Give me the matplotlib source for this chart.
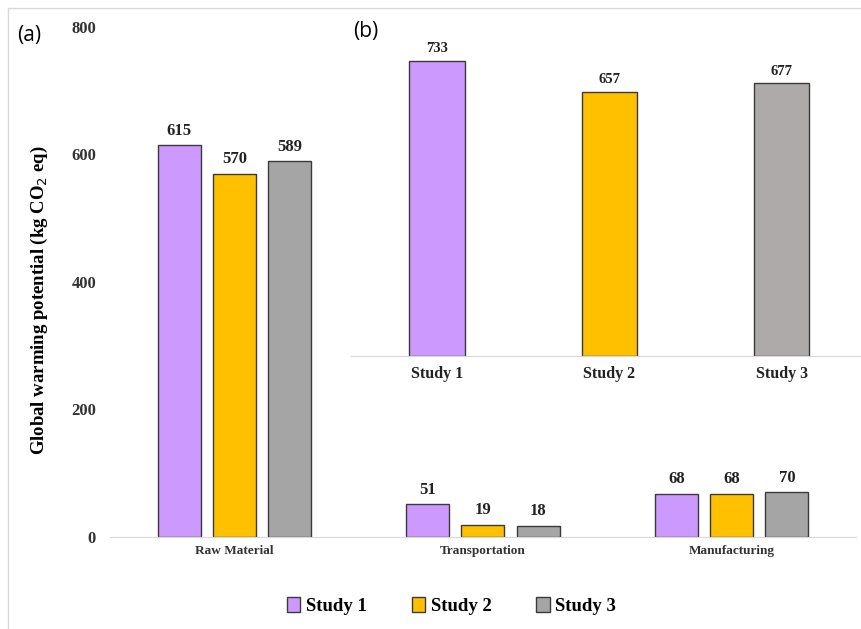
import matplotlib.pyplot as plt
import numpy as np
from matplotlib.lines import Line2D

stages = ["Raw Material", "Transportation", "Manufacturing"]
studies = ["Study 1", "Study 2", "Study 3"]
study1 = [615, 51, 68]
study2 = [570, 19, 68]
study3 = [589, 18, 70]
totals = [733, 657, 677]

COLORS = ["#CC99FF", "#FFC000", "#A5A5A5"]
EDGE = "#3A3A3A"
SERIF = "Liberation Serif"

fig = plt.figure(figsize=(8.62, 6.29), dpi=100, facecolor="white")

# cuadro gris del área de gráfico
fig.add_artist(Line2D([8/862, 8/862], [0, 1 - 8/629], color="#D9D9D9", lw=1))
fig.add_artist(Line2D([8/862, 1], [1 - 8/629, 1 - 8/629], color="#D9D9D9", lw=1))

# (a) panel principal
ax = fig.add_axes([0.1276, 0.1463, 0.8654, 0.8108])
x = np.arange(len(stages))
w = 0.173
step = 0.222
series = [study1, study2, study3]
for i, vals in enumerate(series):
    bars = ax.bar(x + (i - 1) * step, vals, width=w, color=COLORS[i], edgecolor=EDGE,
                  linewidth=1, label=studies[i], zorder=2)
    for b in bars:
        h = b.get_height()
        ax.text(b.get_x() + b.get_width() / 2, h + 10, f"{int(h)}", ha="center", va="bottom",
                fontsize=12, fontweight="bold", family=SERIF, color="#222222")

ax.set_xlim(-0.5, 2.5)
ax.set_ylim(0, 800)
ax.set_yticks([0, 200, 400, 600, 800])
ax.set_xticks(x)
ax.set_xticklabels(stages, fontsize=9.5, fontweight="bold", family=SERIF)
ax.tick_params(axis="both", length=0, colors="#333333")
ax.tick_params(axis="x", pad=6)
ax.tick_params(axis="y", pad=10)
for lab in ax.get_yticklabels():
    lab.set_family(SERIF)
    lab.set_fontweight("bold")
    lab.set_fontsize(12)
for s in ["top", "right", "left"]:
    ax.spines[s].set_visible(False)
ax.spines["bottom"].set_color("#D9D9D9")
ax.set_ylabel("Global warming potential (kg CO$_2$ eq)", fontsize=13.5, fontweight="bold",
              family=SERIF)
ax.yaxis.set_label_coords(-0.08, 0.465)
ax.set_facecolor("none")

leg = ax.legend(loc="upper center", bbox_to_anchor=(0.458, -0.085), ncol=3, frameon=False,
                prop={"family": SERIF, "weight": "bold", "size": 13.5},
                handlelength=0.7, handleheight=0.8, handletextpad=0.3, columnspacing=2.4)

fig.text(17/862, 1 - 35/629, "(a)", fontsize=15, family="Open Sans", va="center", ha="left")

# (b) panel de totales
axb = fig.add_axes([0.407, 0.434, 0.593, 0.512])
axb.set_facecolor("white")
xb = np.arange(len(studies))
bars = axb.bar(xb, totals, width=0.32, color=["#CC99FF", "#FFC000", "#AEAAAA"], edgecolor=EDGE,
               linewidth=1, zorder=2)
for b in bars:
    h = b.get_height()
    axb.text(b.get_x() + b.get_width() / 2, h + 14, f"{int(h)}", ha="center", va="bottom",
             fontsize=10.5, fontweight="bold", family=SERIF, color="#222222")
axb.set_xlim(-0.5, 2.465)
axb.set_ylim(0, 800)
axb.set_yticks([])
axb.set_xticks(xb)
axb.set_xticklabels(studies, fontsize=11.5, fontweight="bold", family=SERIF)
axb.tick_params(axis="x", length=0, pad=7, colors="#222222")
for s in ["top", "right", "left"]:
    axb.spines[s].set_visible(False)
axb.spines["bottom"].set_color("#D9D9D9")

fig.text(353/862, 1 - 31/629, "(b)", fontsize=15, family="Open Sans", va="center", ha="left")

fig.savefig("out.png", dpi=100, facecolor="white")
